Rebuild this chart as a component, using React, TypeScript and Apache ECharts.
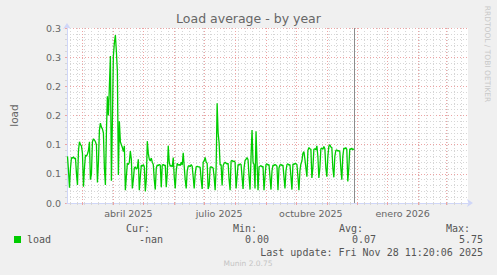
import React, { useEffect, useRef } from 'react';
import * as echarts from 'echarts';

const DAY = 86400000;

// ---- data ----
const seriesStart = '2025-02-14';
const loadValues = [
  0.080, 0.055, 0.026, 0.060, 0.078, 0.077, 0.079,
  0.076, 0.077, 0.050, 0.031, 0.090, 0.105, 0.100,
  0.098, 0.085, 0.028, 0.060, 0.082, 0.080, 0.084,
  0.090, 0.105, 0.040, 0.050, 0.105, 0.110, 0.108,
  0.105, 0.100, 0.035, 0.070, 0.125, 0.137, 0.130,
  0.127, 0.120, 0.060, 0.031, 0.120, 0.183, 0.150,
  0.200, 0.252, 0.038, 0.140, 0.252, 0.275, 0.288,
  0.260, 0.226, 0.048, 0.140, 0.105, 0.100, 0.095,
  0.088, 0.098, 0.022, 0.045, 0.068, 0.066, 0.070,
  0.089, 0.075, 0.025, 0.040, 0.060, 0.062, 0.058,
  0.060, 0.075, 0.022, 0.045, 0.065, 0.063, 0.066,
  0.062, 0.020, 0.040, 0.106, 0.085, 0.075, 0.072,
  0.077, 0.070, 0.066, 0.040, 0.023, 0.060, 0.065,
  0.064, 0.066, 0.065, 0.027, 0.065, 0.066, 0.064,
  0.065, 0.027, 0.050, 0.098, 0.070, 0.063, 0.064,
  0.062, 0.078, 0.045, 0.025, 0.055, 0.068, 0.065,
  0.066, 0.064, 0.070, 0.065, 0.086, 0.063, 0.040,
  0.025, 0.055, 0.063, 0.064, 0.062, 0.066, 0.063,
  0.045, 0.025, 0.050, 0.062, 0.063, 0.062, 0.062,
  0.061, 0.040, 0.024, 0.070, 0.072, 0.078, 0.070,
  0.068, 0.024, 0.030, 0.061, 0.062, 0.061, 0.060,
  0.045, 0.022, 0.060, 0.171, 0.120, 0.103, 0.065,
  0.066, 0.030, 0.064, 0.068, 0.070, 0.068, 0.067,
  0.068, 0.040, 0.022, 0.072, 0.073, 0.071, 0.072,
  0.070, 0.025, 0.045, 0.066, 0.065, 0.067, 0.066,
  0.045, 0.024, 0.060, 0.073, 0.075, 0.078, 0.074,
  0.045, 0.023, 0.080, 0.125, 0.070, 0.066, 0.025,
  0.123, 0.070, 0.022, 0.062, 0.063, 0.064, 0.062,
  0.063, 0.022, 0.045, 0.066, 0.067, 0.065, 0.066,
  0.045, 0.023, 0.055, 0.065, 0.064, 0.066, 0.065,
  0.063, 0.022, 0.060, 0.065, 0.066, 0.064, 0.065,
  0.045, 0.025, 0.055, 0.066, 0.067, 0.065, 0.066,
  0.045, 0.023, 0.067, 0.066, 0.068, 0.067, 0.066,
  0.045, 0.022, 0.055, 0.067, 0.072, 0.085, 0.088,
  0.075, 0.060, 0.045, 0.090, 0.095, 0.093, 0.092,
  0.043, 0.060, 0.092, 0.093, 0.091, 0.098, 0.080,
  0.043, 0.060, 0.093, 0.094, 0.092, 0.097, 0.093,
  0.060, 0.045, 0.080, 0.097, 0.100, 0.096, 0.095,
  0.060, 0.044, 0.080, 0.090, 0.091, 0.089, 0.090,
  0.088, 0.060, 0.040, 0.080, 0.094, 0.093, 0.095,
  0.092, 0.037, 0.060, 0.093, 0.092, 0.094, 0.091,
  0.093,
];
const axisStart = '2025-02-13T12:00:00Z';
const axisEnd = '2026-03-22T12:00:00Z';
const nowTime = '2025-11-28T11:20:06Z';
const firstMonday = '2025-02-17';
const firstMonthStart = [2025, 2];
const quarterLabels = ['abril 2025', 'julio 2025', 'octubre 2025', 'enero 2026'];
const quarterLabelDates = ['2025-04-16', '2025-07-16', '2025-10-16', '2026-01-16'];
const yMin = 0;
const yMax = 0.3;
const yInterval = 0.05;

const titleText = 'Load average - by year';
const yAxisName = 'load';
const seriesName = 'load';
const legendHeaders = ['Cur:', 'Min:', 'Avg:', 'Max:'];
const legendValues = ['-nan', '0.00', '0.07', '5.75'];
const lastUpdate = 'Last update: Fri Nov 28 11:20:06 2025';
const footer = 'Munin 2.0.75';
const sideText = 'RRDTOOL / TOBI OETIKER';

export default function App() {
  const ref = useRef<HTMLDivElement>(null);
  useEffect(() => {
    if (!ref.current) return;
    const chart = echarts.init(ref.current, undefined, { renderer: 'svg' });
    const t0 = Date.parse(seriesStart + 'T00:00:00Z');
    const data = loadValues.map((v, i) => [t0 + i * DAY, v]);
    const minT = Date.parse(axisStart);
    const maxT = Date.parse(axisEnd);
    const weeks: number[] = [];
    for (let t = Date.parse(firstMonday + 'T00:00:00Z'); t < maxT; t += 7 * DAY) weeks.push(t);
    const months: number[] = [];
    for (let k = 0; ; k++) {
      const t = Date.UTC(firstMonthStart[0], firstMonthStart[1] + k, 1);
      if (t >= maxT) break;
      months.push(t);
    }
    const labelTs = quarterLabelDates.map((d) => Date.parse(d + 'T00:00:00Z'));
    const font = 'DejaVu Sans';
    const mono = '"DejaVu Sans Mono"';
    const axisCol = '#CFD6F8';
    const gridGray = '#d6d6d6';
    const gridRed = '#eda4a4';
    const textCol = '#666';
    const legCol = '#555';

    const headerRight = [150, 257, 363, 470];
    const valueRight = [163, 269, 376, 483];

    const graphics: any[] = [
      { type: 'rect', shape: { x: 14, y: 236, width: 7, height: 7 }, style: { fill: '#00cc00' } },
      { type: 'text', x: 27, y: 239.5, style: { text: seriesName, fill: legCol, font: `10px ${mono}`, textAlign: 'left', textVerticalAlign: 'middle' } },
      { type: 'text', x: 483, y: 252, style: { text: lastUpdate, fill: legCol, font: `10px ${mono}`, textAlign: 'right', textVerticalAlign: 'middle' } },
      { type: 'text', x: 248, y: 263.5, style: { text: footer, fill: '#c4c4c4', font: `7.5px "DejaVu Sans"`, textAlign: 'center', textVerticalAlign: 'middle' } },
      { type: 'text', x: 487, y: 54, rotation: -Math.PI / 2, style: { text: sideText, fill: '#c8c8c8', font: `7.5px "DejaVu Sans"`, textAlign: 'center', textVerticalAlign: 'middle' } },
    ];
    legendHeaders.forEach((h, i) => {
      graphics.push({ type: 'text', x: headerRight[i], y: 228, style: { text: h, fill: legCol, font: `10px ${mono}`, textAlign: 'right', textVerticalAlign: 'middle' } });
      graphics.push({ type: 'text', x: valueRight[i], y: 239.5, style: { text: legendValues[i], fill: legCol, font: `10px ${mono}`, textAlign: 'right', textVerticalAlign: 'middle' } });
    });

    chart.setOption({
      animation: false,
      backgroundColor: '#f0f0f0',
      title: {
        text: titleText,
        left: 'center',
        top: 11.5,
        padding: 0,
        textStyle: { fontSize: 12.5, fontWeight: 'normal', fontFamily: font, color: textCol },
      },
      grid: { left: 66, top: 28, width: 402, height: 175, show: true, backgroundColor: '#ffffff', borderWidth: 0 },
      xAxis: [
        {
          type: 'value', min: minT, max: maxT, position: 'bottom',
          axisLine: { show: true, lineStyle: { color: axisCol, width: 1 }, symbol: ['none', 'arrow'], symbolSize: [6, 6], symbolOffset: [0, 5] },
          axisTick: { show: true, customValues: weeks, length: 2, lineStyle: { color: gridGray } },
          axisLabel: { show: false },
          splitLine: { show: true, lineStyle: { color: gridGray, type: [1, 2], width: 1 } },
          z: 1,
        },
        {
          type: 'value', min: minT, max: maxT, position: 'bottom', offset: 0,
          axisLine: { show: false },
          axisTick: { show: true, customValues: months, length: 2, lineStyle: { color: gridRed } },
          axisLabel: {
            show: true, customValues: labelTs, margin: 5, fontSize: 9.5, fontFamily: font, color: textCol,
            formatter: (v: number) => { const i = labelTs.indexOf(v); return i >= 0 ? quarterLabels[i] : ''; },
          },
          splitLine: { show: true, lineStyle: { color: gridRed, type: [1, 2], width: 1 } },
          z: 2,
        },
      ],
      yAxis: {
        type: 'value', min: yMin, max: yMax, interval: yInterval,
        name: yAxisName, nameLocation: 'middle', nameGap: 48,
        nameTextStyle: { fontSize: 10.5, fontFamily: font, color: textCol },
        axisLine: { show: true, lineStyle: { color: axisCol, width: 1 }, symbol: ['none', 'arrow'], symbolSize: [6, 6], symbolOffset: [0, 5] },
        axisTick: { show: true, length: 2, lineStyle: { color: gridRed } },
        minorTick: { show: true, splitNumber: 5, length: 2, lineStyle: { color: gridGray } },
        axisLabel: {
          margin: 6, fontSize: 9.5, fontFamily: font, color: textCol,
          formatter: (v: number) => (Math.round(v * 10 + 1e-9) / 10).toFixed(1),
        },
        splitLine: { show: true, lineStyle: { color: gridRed, type: [1, 2], width: 1 } },
        minorSplitLine: { show: true, lineStyle: { color: gridGray, type: [1, 2], width: 1 } },
      },
      series: [
        {
          name: seriesName, type: 'line', xAxisIndex: 0, data, showSymbol: false, symbol: 'none',
          lineStyle: { color: '#00cc00', width: 1.3 }, z: 5,
          markLine: {
            silent: true, symbol: 'none', label: { show: false },
            lineStyle: { color: '#8c8c8c', type: 'solid', width: 1 },
            data: [{ xAxis: Date.parse(nowTime) }],
          },
        },
      ],
      graphic: graphics,
    });
    return () => chart.dispose();
  }, []);
  return <div ref={ref} style={{ position: 'fixed', left: 0, top: 0, width: 497, height: 275 }} />;
}
